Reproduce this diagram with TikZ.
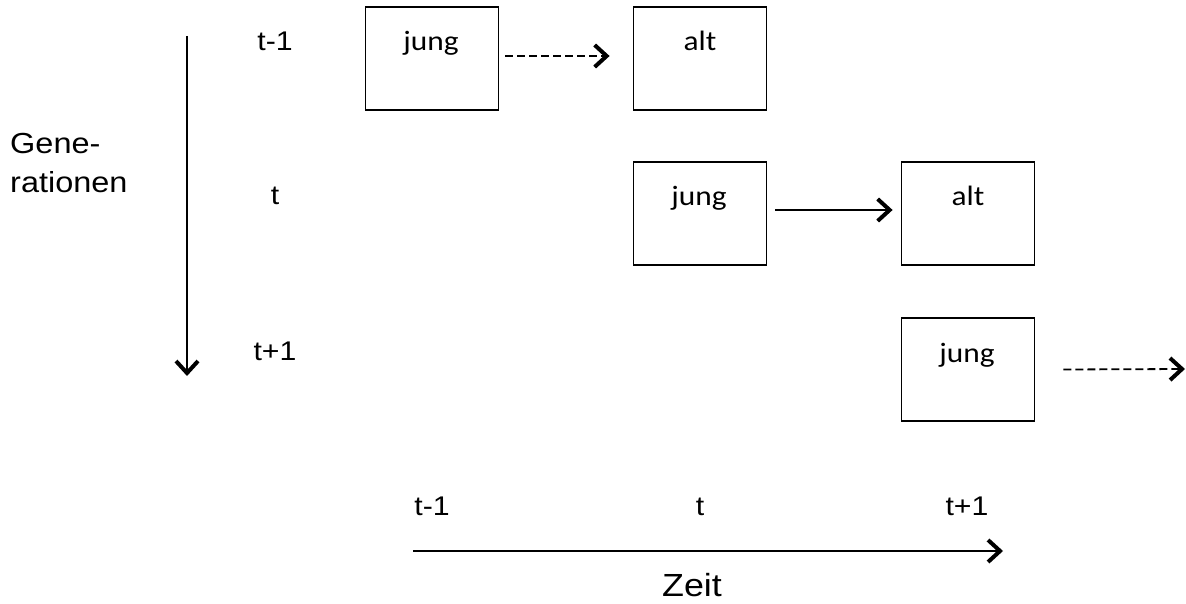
\documentclass[tikz,border=0pt]{standalone}
\usepackage{fontspec}
\usetikzlibrary{arrows.meta}
\newfontfamily\calfont[FakeStretch=1.12]{Carlito}
\newfontfamily\arifont[FakeStretch=1.12]{Liberation Sans}
\tikzset{
  gbox/.style={draw, line width=1.8pt, minimum width=133pt, minimum height=103pt, inner sep=0pt},
  boxtxt/.style={anchor=base, inner sep=0pt, font=\calfont\fontsize{28}{32}\selectfont},
  lbl/.style={anchor=base, inner sep=0pt, font=\arifont\fontsize{27}{30}\selectfont},
  big/.style={anchor=base, inner sep=0pt, font=\arifont\fontsize{29}{34}\selectfont},
  tip/.style={-{Straight Barb[length=12pt, width=22pt, line width=4pt 0]}},
  conn/.style={tip, line width=1.8pt},
  dconn/.style={tip, line width=1.8pt, dash pattern=on 8pt off 4pt},
}
\begin{document}
\begin{tikzpicture}[x=1pt,y=-1pt]
\useasboundingbox (0,0) rectangle (1186,604);
% boxes
\node[gbox] (b1) at (432,58.5) {};
\node[gbox] (b2) at (700,58.5) {};
\node[gbox] (b3) at (700,213.5) {};
\node[gbox] (b4) at (968,213.5) {};
\node[gbox] (b5) at (968,369.5) {};
% box texts
\node[boxtxt] (t1) at (431,51) {jung};
\node[boxtxt] (t2) at (700,51) {alt};
\node[boxtxt] (t3) at (699,206) {jung};
\node[boxtxt] (t4) at (968,206) {alt};
\node[boxtxt] (t5) at (967,362) {jung};
% generation labels
\node[lbl] (g1) at (275,51) {t-1};
\node[lbl] (g2) at (275,205) {t};
\node[lbl] (g3) at (275,360) {t+1};
\node[big, anchor=base west] (gen1) at (10,154) {Gene-};
\node[big, anchor=base west] (gen2) at (10,193) {rationen};
% time labels
\node[lbl] (z1) at (432,515) {t-1};
\node[lbl] (z2) at (700,515) {t};
\node[lbl] (z3) at (967,515) {t+1};
\node[big, font=\arifont\fontsize{32}{36}\selectfont] (zeit) at (692,596) {Zeit};
% arrows
\draw[dconn] ([xshift=6pt,yshift=2.5pt]b1.east) -- ([xshift=-23pt,yshift=2.5pt]b2.west);
\draw[conn] ([xshift=8pt,yshift=3.5pt]b3.east) -- ([xshift=-8pt,yshift=3.5pt]b4.west);
\coordinate (fr) at (1185,369);
\draw[dconn] ([xshift=28pt]b5.east) -- (fr);
\coordinate (gtop) at (187,36);
\coordinate (gbot) at (187,376);
\draw[conn] (gtop) -- (gbot);
\coordinate (zl) at (413,551);
\coordinate (zr) at (1003,551);
\draw[conn] (zl) -- (zr);
\end{tikzpicture}
\end{document}
